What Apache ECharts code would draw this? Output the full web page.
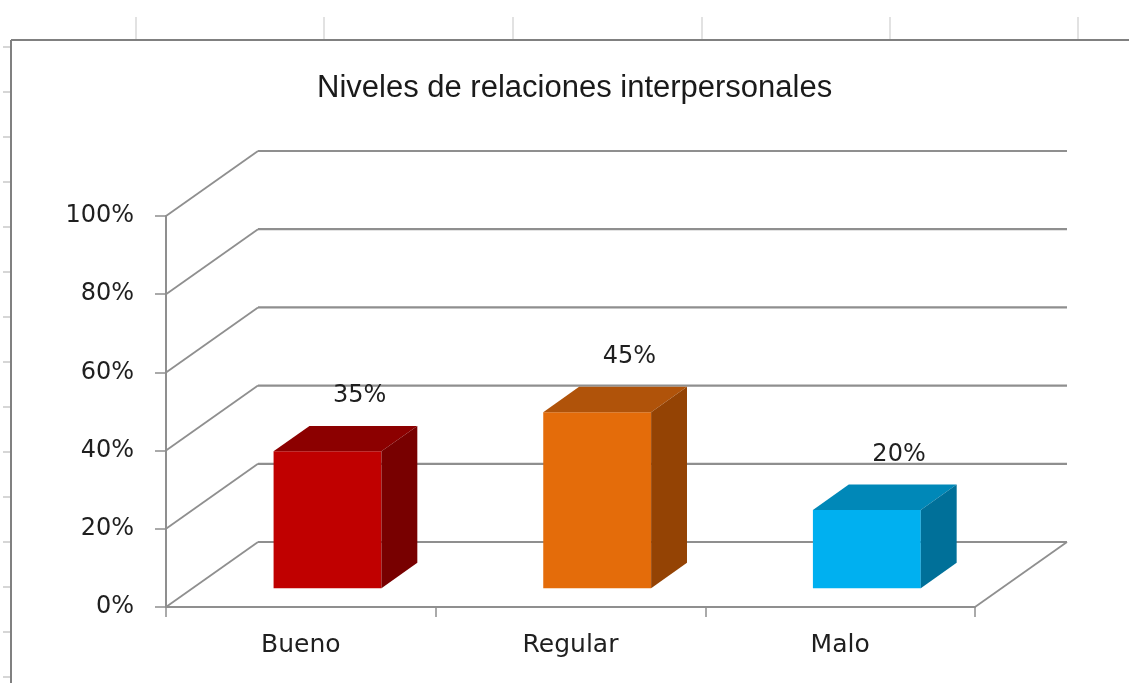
<!DOCTYPE html>
<html>
<head>
<meta charset="utf-8">
<script src="https://cdn.jsdelivr.net/npm/echarts@6/dist/echarts.min.js"></script>
<style>
  html, body { margin: 0; padding: 0; background: #fff; }
  #main { width: 1129px; height: 683px; }
</style>
</head>
<body>
<div id="main"></div>
<script>
var categories = ['Bueno', 'Regular', 'Malo'];
var values = [0.35, 0.45, 0.20];
var yTicks = [0, 0.2, 0.4, 0.6, 0.8, 1.0];
var frontColors = ['#C00000', '#E46C0A', '#00B0F0'];
var topColors = ['#8C0000', '#B0530A', '#0088B8'];
var sideColors = ['#780000', '#944304', '#007099'];

// 3d look: depth of the box and where the bars sit in it
var DX = 92, DY = -65;
var D0 = 0.29, D1 = 0.68;
var LINE = '#8f8f8f';

// spreadsheet bits around the chart
var deco = [];
[136, 324, 513, 702, 890, 1078].forEach(function (x) {
  deco.push({ type: 'line', shape: { x1: x, y1: 17, x2: x, y2: 40 }, style: { stroke: '#d9d9d9', lineWidth: 1.5 } });
});
for (var ry = 47; ry < 683; ry += 45) {
  deco.push({ type: 'line', shape: { x1: 3, y1: ry, x2: 11, y2: ry }, style: { stroke: '#c8c8c8', lineWidth: 1.5 } });
}
deco.push({ type: 'line', shape: { x1: 11, y1: 40, x2: 1129, y2: 40 }, style: { stroke: '#808080', lineWidth: 2 } });
deco.push({ type: 'line', shape: { x1: 11, y1: 40, x2: 11, y2: 683 }, style: { stroke: '#808080', lineWidth: 2 } });

var chart = echarts.init(document.getElementById('main'));
chart.setOption({
  animation: false,
  backgroundColor: '#fff',
  graphic: deco,
  title: {
    text: 'Niveles de relaciones interpersonales',
    left: 312,
    top: 68,
    textStyle: { fontFamily: 'Liberation Sans', fontSize: 31, fontWeight: 'normal', color: '#1a1a1a' }
  },
  grid: { left: 166, right: 154, top: 216, bottom: 76 },
  xAxis: {
    type: 'category',
    data: categories,
    boundaryGap: true,
    axisLine: { lineStyle: { color: LINE, width: 2 } },
    axisTick: { show: true, length: 10, lineStyle: { color: LINE, width: 1.5 } },
    axisLabel: { margin: 26, fontFamily: 'DejaVu Sans', fontSize: 25, color: '#1f1f1f' }
  },
  yAxis: {
    type: 'value',
    min: 0,
    max: 1,
    interval: 0.2,
    splitLine: { show: false },
    axisLine: { show: true, lineStyle: { color: LINE, width: 2 } },
    axisTick: { show: true, length: 11, lineStyle: { color: LINE, width: 1.5 } },
    axisLabel: {
      margin: 32,
      fontFamily: 'DejaVu Sans', fontSize: 24, color: '#1f1f1f',
      formatter: function (v) { return Math.round(v * 100) + '%'; }
    }
  },
  series: [
    {
      // side wall diagonals, back wall gridlines, floor edge
      type: 'custom',
      z: 1,
      silent: true,
      data: yTicks.map(function (v) { return [categories[0], v]; }),
      renderItem: function (params, api) {
        var cs = params.coordSys;
        var y = api.coord([api.value(0), api.value(1)])[1];
        var x0 = cs.x, x1 = cs.x + cs.width;
        var kids = [
          { type: 'line', shape: { x1: x0, y1: y, x2: x0 + DX, y2: y + DY }, style: { stroke: LINE, lineWidth: 1.8 } },
          { type: 'line', shape: { x1: x0 + DX, y1: y + DY, x2: x1 + DX, y2: y + DY }, style: { stroke: LINE, lineWidth: 2.2 } }
        ];
        if (api.value(1) === 0) {
          kids.push({ type: 'line', shape: { x1: x1, y1: y, x2: x1 + DX, y2: y + DY }, style: { stroke: LINE, lineWidth: 1.8 } });
        }
        return { type: 'group', children: kids };
      }
    },
    {
      type: 'custom',
      z: 3,
      data: values.map(function (v, i) { return [categories[i], v]; }),
      renderItem: function (params, api) {
        var i = params.dataIndex;
        var base = api.coord([api.value(0), 0]);
        var top = api.coord([api.value(0), api.value(1)]);
        var bw = api.size([1, 0])[0] * 0.4;
        var x0 = base[0] - bw / 2 + D0 * DX, x1 = x0 + bw;
        var yb = base[1] + D0 * DY, yt = top[1] + D0 * DY;
        var ddx = (D1 - D0) * DX, ddy = (D1 - D0) * DY;
        return {
          type: 'group',
          children: [
            { type: 'rect', shape: { x: x0, y: yt, width: bw, height: yb - yt }, style: { fill: frontColors[i] } },
            { type: 'polygon', shape: { points: [[x0, yt], [x1, yt], [x1 + ddx, yt + ddy], [x0 + ddx, yt + ddy]] }, style: { fill: topColors[i] } },
            { type: 'polygon', shape: { points: [[x1, yt], [x1 + ddx, yt + ddy], [x1 + ddx, yb + ddy], [x1, yb]] }, style: { fill: sideColors[i] } },
            {
              type: 'text',
              x: base[0] + 0.64 * DX,
              y: top[1] + 0.65 * DY - 32,
              style: {
                text: Math.round(api.value(1) * 100) + '%',
                fontFamily: 'DejaVu Sans', fontSize: 24, fill: '#1f1f1f',
                align: 'center', verticalAlign: 'middle'
              }
            }
          ]
        };
      }
    }
  ]
});
</script>
</body>
</html>
